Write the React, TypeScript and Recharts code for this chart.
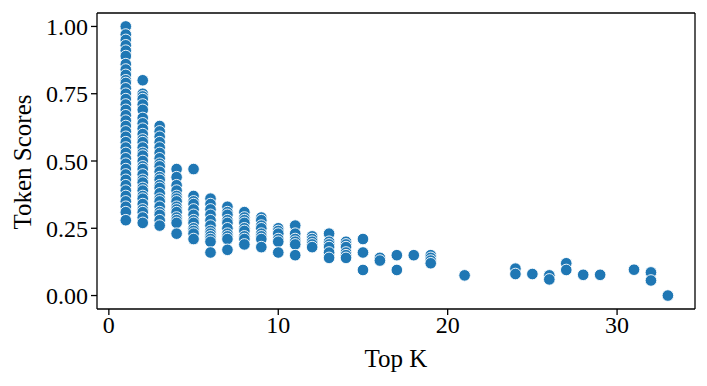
import { ReferenceLine, Scatter, ScatterChart, XAxis, YAxis } from 'recharts';

// Top K positions and the token scores observed at each of them
const topK = [1, 2, 3, 4, 5, 6, 7, 8, 9, 10, 11, 12, 13, 14, 15, 16, 17, 18, 19, 21, 24, 25, 26, 27, 28, 29, 31, 32, 33];

const tokenScores: number[][] = [
  [1.0, 0.97, 0.95, 0.93, 0.91, 0.89, 0.86, 0.84, 0.82, 0.8, 0.79, 0.77, 0.75, 0.73, 0.71, 0.69, 0.67, 0.65, 0.63, 0.61, 0.59, 0.57, 0.55, 0.53, 0.51, 0.49, 0.47, 0.45, 0.43, 0.41, 0.39, 0.37, 0.35, 0.33, 0.31, 0.28],
  [0.8, 0.75, 0.74, 0.73, 0.71, 0.69, 0.66, 0.64, 0.62, 0.6, 0.58, 0.57, 0.55, 0.53, 0.52, 0.5, 0.48, 0.47, 0.45, 0.43, 0.42, 0.4, 0.39, 0.37, 0.36, 0.34, 0.32, 0.31, 0.29, 0.27],
  [0.63, 0.61, 0.59, 0.57, 0.55, 0.53, 0.51, 0.49, 0.48, 0.46, 0.44, 0.43, 0.41, 0.4, 0.38, 0.36, 0.35, 0.33, 0.31, 0.3, 0.28, 0.26],
  [0.47, 0.44, 0.41, 0.39, 0.37, 0.36, 0.35, 0.33, 0.32, 0.31, 0.29, 0.28, 0.27, 0.23],
  [0.47, 0.37, 0.35, 0.34, 0.32, 0.3, 0.28, 0.27, 0.25, 0.24, 0.23, 0.21],
  [0.36, 0.34, 0.32, 0.3, 0.28, 0.26, 0.24, 0.23, 0.22, 0.21, 0.2, 0.16],
  [0.33, 0.31, 0.3, 0.28, 0.27, 0.25, 0.23, 0.22, 0.21, 0.17],
  [0.31, 0.29, 0.28, 0.27, 0.25, 0.24, 0.22, 0.21, 0.19],
  [0.29, 0.28, 0.26, 0.25, 0.23, 0.22, 0.21, 0.18],
  [0.25, 0.24, 0.23, 0.21, 0.2, 0.16],
  [0.26, 0.23, 0.21, 0.2, 0.19, 0.15],
  [0.22, 0.21, 0.2, 0.19, 0.18],
  [0.23, 0.2, 0.19, 0.18, 0.16, 0.14],
  [0.2, 0.19, 0.18, 0.16, 0.15, 0.14],
  [0.21, 0.16, 0.095],
  [0.14, 0.13],
  [0.15, 0.095],
  [0.15],
  [0.15, 0.14, 0.13, 0.12],
  [0.075],
  [0.1, 0.08],
  [0.08],
  [0.075, 0.06],
  [0.12, 0.095],
  [0.077],
  [0.077],
  [0.096],
  [0.086, 0.056],
  [0.0],
];

const xTicks = [0, 10, 20, 30];
const yTicks = [0, 0.25, 0.5, 0.75, 1.0];

const X_DOMAIN: [number, number] = [-0.7, 34.6];
const Y_DOMAIN: [number, number] = [-0.05, 1.05];

const points = topK.flatMap((k, i) => tokenScores[i].map((score) => ({ k, score })));

const FONT = '"Liberation Serif", "Times New Roman", serif';

function Dot(props: any) {
  return <circle cx={props.cx} cy={props.cy} r={5.8} fill="#1f77b4" stroke="#ffffff" strokeWidth={0.9} />;
}

export default function App() {
  return (
    <div style={{ width: 707, height: 386 }}>
      <style>{'body{margin:0}'}</style>
      <ScatterChart width={707} height={386} margin={{ top: 13, right: 12, bottom: 0, left: 0 }}>
        <XAxis
          type="number"
          dataKey="k"
          domain={X_DOMAIN}
          ticks={xTicks}
          allowDataOverflow
          height={77}
          stroke="#000"
          strokeWidth={1.3}
          tickSize={6}
          tick={{ fill: '#000', fontSize: 24, fontFamily: FONT }}
          tickMargin={1}
          label={{
            content: () => (
              <text x={396} y={367} textAnchor="middle" fontSize={25} fontFamily={FONT} fill="#000">
                Top K
              </text>
            ),
          }}
        />
        <YAxis
          type="number"
          dataKey="score"
          domain={Y_DOMAIN}
          ticks={yTicks}
          allowDataOverflow
          width={97}
          stroke="#000"
          strokeWidth={1.3}
          tickSize={6}
          tickMargin={3}
          tickFormatter={(v: number) => v.toFixed(2)}
          tick={{ fill: '#000', fontSize: 24, fontFamily: FONT }}
          label={{
            content: () => (
              <text x={31} y={162} transform="rotate(-90 31 162)" textAnchor="middle" fontSize={25} fontFamily={FONT} fill="#000">
                Token Scores
              </text>
            ),
          }}
        />
        <ReferenceLine x={X_DOMAIN[1]} stroke="#000" strokeWidth={1.3} />
        <ReferenceLine y={Y_DOMAIN[1]} stroke="#000" strokeWidth={1.3} />
        <Scatter data={points} shape={Dot} isAnimationActive={false} />
      </ScatterChart>
    </div>
  );
}
